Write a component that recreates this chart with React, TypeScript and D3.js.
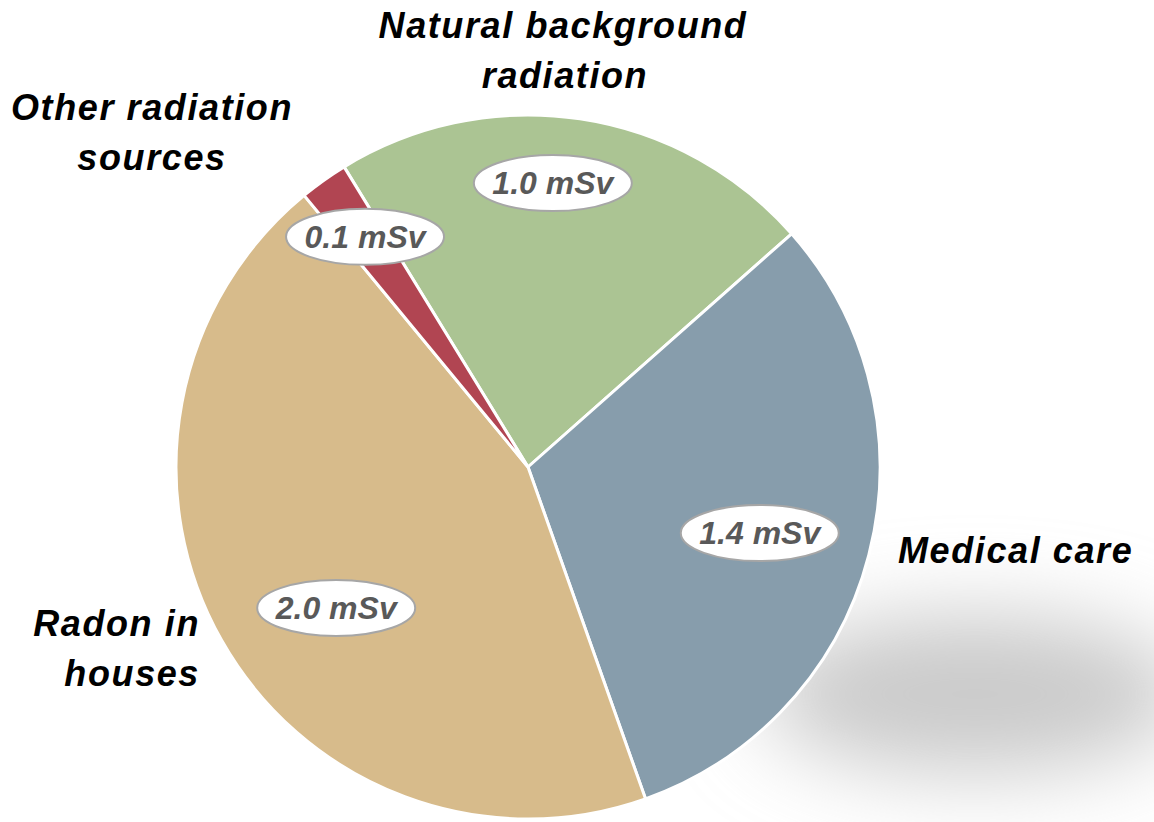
import React from "react";
import * as d3 from "d3";

const categories = ["Natural background radiation", "Medical care", "Radon in houses", "Other radiation sources"];
const values = [1.0, 1.4, 2.0, 0.1];
const valueLabels = ["1.0 mSv", "1.4 mSv", "2.0 mSv", "0.1 mSv"];
const colors = ["#abc493", "#879dac", "#d7bb8b", "#b14552"];

// label layout (radius from centre, angle nudge in degrees)
const labelRadius = [285, 241, 238, 282];
const labelAngleNudge = [-3.5, 1.4, -6.8, 0.2];

const W = 1154;
const H = 822;
const cx = 528;
const cy = 467;
const R = 352;

export default function App() {
  const pie = d3
    .pie<number>()
    .sort(null)
    .value((d) => d)
    .startAngle((-31.5 * Math.PI) / 180)
    .endAngle(((360 - 31.5) * Math.PI) / 180);
  const arcs = pie(values);
  const arc = d3.arc<d3.PieArcDatum<number>>().innerRadius(0).outerRadius(R);

  const font = "'Liberation Sans', Arial, sans-serif";
  const catStyle = {
    fontFamily: font,
    fontWeight: 700,
    fontStyle: "italic",
    fontSize: 36,
    letterSpacing: 1.6,
    fill: "#000",
  } as React.CSSProperties;

  return (
    <svg width={W} height={H} style={{ position: "absolute", left: 0, top: 0 }}>
      <defs>
        <filter id="shadowBlur" x="-60%" y="-80%" width="220%" height="260%">
          <feGaussianBlur stdDeviation="42" />
        </filter>
      </defs>
      <rect x={0} y={0} width={W} height={H} fill="#fff" />
      <ellipse cx={975} cy={694} rx={215} ry={80} fill="#cacaca" filter="url(#shadowBlur)" />
      <g transform={`translate(${cx},${cy})`}>
        {arcs.map((a, i) => (
          <path key={i} d={arc(a) || ""} fill={colors[i]} stroke="#fff" strokeWidth={3} strokeLinejoin="round" />
        ))}
        {arcs.map((a, i) => {
          const mid = (a.startAngle + a.endAngle) / 2 + (labelAngleNudge[i] * Math.PI) / 180;
          const x = labelRadius[i] * Math.sin(mid);
          const y = -labelRadius[i] * Math.cos(mid);
          return (
            <g key={"l" + i} transform={`translate(${x},${y})`}>
              <ellipse rx={79} ry={28} fill="#fff" stroke="#a6a6a6" strokeWidth={2} />
              <text
                textAnchor="middle"
                y={11}
                style={{
                  fontFamily: font,
                  fontWeight: 700,
                  fontStyle: "italic",
                  fontSize: 32,
                  letterSpacing: 0,
                  fill: "#595959",
                }}
              >
                {valueLabels[i]}
              </text>
            </g>
          );
        })}
      </g>
      <text x={563} y={38} textAnchor="middle" style={catStyle}>Natural background</text>
      <text x={565} y={88} textAnchor="middle" style={catStyle}>radiation</text>
      <text x={152} y={120} textAnchor="middle" style={catStyle}>Other radiation</text>
      <text x={152} y={170} textAnchor="middle" style={catStyle}>sources</text>
      <text x={898} y={563} textAnchor="start" style={catStyle}>Medical care</text>
      <text x={200} y={636} textAnchor="end" style={catStyle}>Radon in</text>
      <text x={200} y={686} textAnchor="end" style={catStyle}>houses</text>
    </svg>
  );
}
